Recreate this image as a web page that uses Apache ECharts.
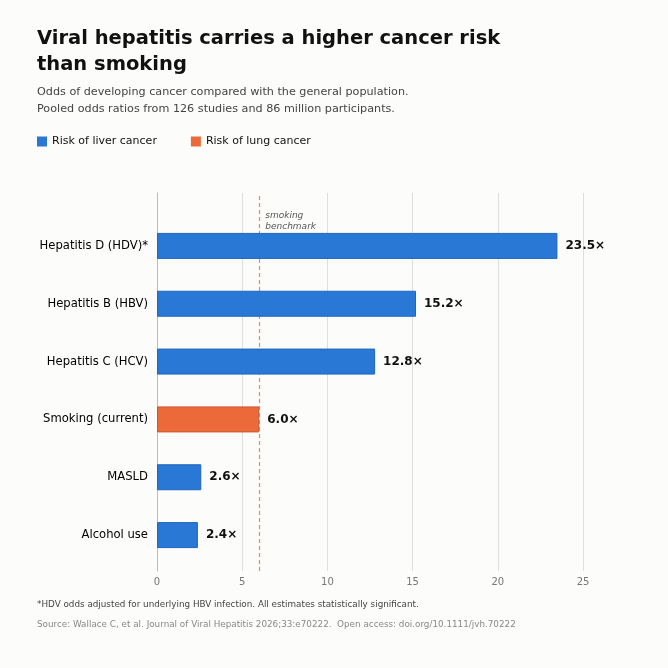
<!DOCTYPE html>
<html>
<head>
  <meta charset="UTF-8">
  <title>Viral hepatitis and cancer risk</title>
  <script src="https://cdn.jsdelivr.net/npm/echarts@6/dist/echarts.min.js"></script>
  <style>
    html, body { margin: 0; padding: 0; background: #fcfcfb; }
    #chart { width: 668px; height: 668px; }
  </style>
</head>
<body>
<div id="chart"></div>
<script type="text/javascript">
  var categories = ['Hepatitis D (HDV)*', 'Hepatitis B (HBV)', 'Hepatitis C (HCV)', 'Smoking (current)', 'MASLD', 'Alcohol use'];
  var liverRisk = [23.5, 15.2, 12.8, '-', 2.6, 2.4];
  var lungRisk = ['-', '-', '-', 6.0, '-', '-'];
  var smokingBenchmark = 6.0;

  var font = 'DejaVu Sans';
  var blue = '#2a78d6', orange = '#ec6a3a';

  function valueLabel(p){
    return p.value.toFixed(1) + '×';
  }

  var chart = echarts.init(document.getElementById('chart'));
  chart.setOption({
    backgroundColor: '#fcfcfb',
    animation: false,
    textStyle: { fontFamily: font },
    title: [
      {
        text: 'Viral hepatitis carries a higher cancer risk\nthan smoking',
        left: 37, top: 26, padding: 0,
        textStyle: { fontFamily: font, fontSize: 19.5, fontWeight: 'bold', color: '#111', lineHeight: 26 }
      },
      {
        text: 'Odds of developing cancer compared with the general population.\nPooled odds ratios from 126 studies and 86 million participants.',
        left: 37, top: 84, padding: 0,
        textStyle: { fontFamily: font, fontSize: 11.2, fontWeight: 'normal', color: '#444', lineHeight: 17 }
      },
      {
        text: '*HDV odds adjusted for underlying HBV infection. All estimates statistically significant.',
        left: 37, top: 600, padding: 0,
        textStyle: { fontFamily: font, fontSize: 8.8, fontWeight: 'normal', color: '#444' }
      },
      {
        text: 'Source: Wallace C, et al. Journal of Viral Hepatitis 2026;33:e70222.  Open access: doi.org/10.1111/jvh.70222',
        left: 37, top: 620, padding: 0,
        textStyle: { fontFamily: font, fontSize: 8.8, fontWeight: 'normal', color: '#888' }
      }
    ],
    legend: {
      left: 37, top: 136, padding: 0,
      itemWidth: 10, itemHeight: 10, itemGap: 34,
      icon: 'rect',
      itemStyle: { borderWidth: 0 },
      textStyle: { fontFamily: font, fontSize: 11, color: '#111' },
      data: ['Risk of liver cancer', 'Risk of lung cancer']
    },
    grid: [
      { left: 157, right: 85, top: 193, bottom: 97 },
      { left: 157, right: 85, top: 217, bottom: 104 }
    ],
    xAxis: [
      {
        gridIndex: 0, type: 'value', min: 0, max: 25, interval: 5,
        axisLine: { show: false }, axisTick: { show: false },
        axisLabel: { color: '#777', fontSize: 10, margin: 6, fontFamily: font },
        splitLine: { lineStyle: { color: '#dedede', width: 1 } }
      },
      {
        gridIndex: 1, type: 'value', min: 0, max: 25, show: false
      }
    ],
    yAxis: [
      {
        gridIndex: 0, type: 'value', min: 0, max: 1,
        axisLine: { show: true, lineStyle: { color: '#bbb' } },
        axisTick: { show: false }, axisLabel: { show: false }, splitLine: { show: false }
      },
      {
        gridIndex: 1, type: 'category', data: categories, inverse: true,
        axisLine: { show: false }, axisTick: { show: false }, splitLine: { show: false },
        axisLabel: { color: '#000', fontSize: 11.6, margin: 9, fontFamily: font }
      }
    ],
    series: [
      {
        type: 'line', xAxisIndex: 0, yAxisIndex: 0, data: [], silent: true, z: 1,
        markLine: {
          silent: true, symbol: 'none',
          lineStyle: { type: [4, 3], color: '#dc8f68', width: 1.2, opacity: 1 },
          label: { show: false },
          data: [{ xAxis: smokingBenchmark }]
        },
        markPoint: {
          silent: true, symbol: 'rect', symbolSize: 0,
          data: [{ coord: [smokingBenchmark, 1] }],
          label: {
            show: true, position: [6, 17], align: 'left', verticalAlign: 'top',
            formatter: 'smoking\nbenchmark',
            fontFamily: font, fontSize: 9, fontStyle: 'italic', color: '#555', lineHeight: 11
          }
        }
      },
      {
        name: 'Risk of liver cancer', type: 'bar', xAxisIndex: 1, yAxisIndex: 1, z: 5,
        data: liverRisk, barWidth: 26, barGap: '-100%',
        itemStyle: { color: blue, borderColor: '#1f66be', borderWidth: 1 },
        label: { show: true, position: 'right', distance: 8, formatter: valueLabel,
                 fontFamily: font, fontSize: 12, fontWeight: 'bold', color: '#111' }
      },
      {
        name: 'Risk of lung cancer', type: 'bar', xAxisIndex: 1, yAxisIndex: 1, z: 5,
        data: lungRisk, barWidth: 26, barGap: '-100%',
        itemStyle: { color: orange, borderColor: '#cc5630', borderWidth: 1 },
        label: { show: true, position: 'right', distance: 8, formatter: valueLabel,
                 fontFamily: font, fontSize: 12, fontWeight: 'bold', color: '#111' }
      }
    ]
  });
</script>
</body>
</html>
